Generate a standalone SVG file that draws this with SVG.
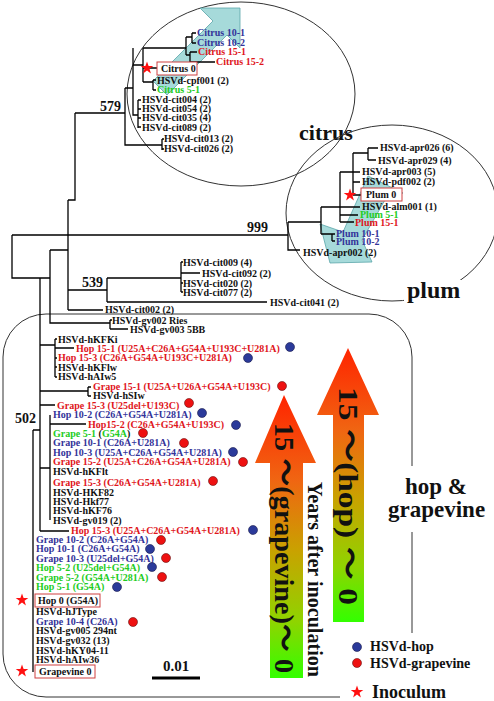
<svg xmlns="http://www.w3.org/2000/svg" width="494" height="701" viewBox="0 0 494 701">
<defs>
<style>
.t{font-family:'Liberation Serif','Times New Roman',serif;font-weight:bold;font-size:10px;fill:#111}
.b{fill:#333399}.r{fill:#e0151b}.g{fill:#22cc22}
.big{font-family:'Liberation Serif','Times New Roman',serif;font-weight:bold;fill:#111}
.ar{font-family:'Liberation Serif','Noto Sans CJK JP',serif;font-weight:bold;fill:#111}
.ln{stroke:#000;stroke-width:1.3;fill:none}
.cir{stroke:#333;stroke-width:1;fill:none}
.box{stroke:#d04040;stroke-width:1;fill:#fff}
.cy{fill:#a6dada;stroke:#5aa6aa;stroke-width:0.8}
.db{fill:#2b3a9a;stroke:#1a1a4a;stroke-width:0.6}
.dr{fill:#ee1111;stroke:#661111;stroke-width:0.6}
</style>
<path id="star" d="M0,-6.5 L1.6,-2 L6.3,-2 L2.5,0.8 L3.9,5.4 L0,2.6 L-3.9,5.4 L-2.5,0.8 L-6.3,-2 L-1.6,-2 Z" fill="#ff1010"/>
<linearGradient id="ga" x1="0" y1="395" x2="0" y2="678" gradientUnits="userSpaceOnUse">
<stop offset="0" stop-color="#ff2400"/><stop offset="0.3" stop-color="#f06512"/><stop offset="0.55" stop-color="#c9a200"/><stop offset="0.8" stop-color="#8fd400"/><stop offset="1" stop-color="#33ff00"/>
</linearGradient>
<linearGradient id="gb" x1="0" y1="348" x2="0" y2="622" gradientUnits="userSpaceOnUse">
<stop offset="0" stop-color="#ff2400"/><stop offset="0.3" stop-color="#f06512"/><stop offset="0.55" stop-color="#c9a200"/><stop offset="0.8" stop-color="#8fd400"/><stop offset="1" stop-color="#33ff00"/>
</linearGradient>
</defs>
<rect width="494" height="701" fill="#fff"/>

<g id="citrus-region">
<ellipse class="cir" cx="241" cy="94" rx="114" ry="92"/>
<polygon class="cy" points="240,8 200,8 213,21 153,81 167,95 227,35 240,48"/>
<text class="big" x="299" y="140" font-size="22">citrus</text>
</g>
<g id="plum-region">
<ellipse class="cir" cx="392" cy="213" rx="106" ry="88"/>
<polygon class="cy" points="368,176 403,193 385,200 362,240 372,262 330,263 320,224 343,232"/>
<rect x="404" y="280" width="60" height="24" fill="#fff"/>
<text class="big" x="407" y="298" font-size="24">plum</text>
</g>
<g id="hop-region">
<path class="cir" d="M340,697 H46 A43,43 0 0 1 3,654 V357 A43,43 0 0 1 46,314 H369 A43,43 0 0 1 412,357 V466 M412,532 V633"/>
<text class="big" x="405" y="494" font-size="23">hop &amp;</text>
<text class="big" x="388" y="517" font-size="23">grapevine</text>
</g>

<g id="connectors">
<path class="ln" d="M12,235 H288 M12,235 V278 H50 M40,278 V531 M33,430 H40 M33,430 V672"/>
<path class="ln" d="M75,113 H125 M75,113 V200 H68 M68,200 V310 M68,290 H107 M68,310 H103 M50,250 H68 M50,250 V323 H110"/>
<path class="ln" d="M125,88 V145 H162 M162,139 V150 M162,139 H164 M162,149 H164 M125,88 H133 M133,48 V115 H138 M138,100 V128 M138,100 H141 M138,109 H141 M138,118 H141 M138,127 H141 M133,65 H143 M143,48 V82 M143,48 H186 M186,37 V55 M186,37 H192 M192,33 V43 M192,33 H196 M192,43 H196 M186,55 H190 M190,52 V62 M190,52 H197 M190,62 H215 M143,68 H157 M143,82 H153 M153,80 V90 M153,80 H156 M153,90 H156"/>
<path class="ln" d="M288,222 V250 H300 M288,222 H321 M321,207 V234 M321,234 H332 M332,234 V241 M332,234 H335 M332,241 H335 M321,207 H340 M340,172 V222 M340,172 H353 M353,153 V195 M353,153 H368 M368,148 V160 M368,148 H378 M368,160 H376 M353,172 H360 M353,182 H360 M353,195 H361 M340,207 H360 M340,215 H358 M340,222 H354"/>
<path class="ln" d="M107,278 V302 M107,278 H181 M181,262 V292 M181,262 H183 M181,273 H200 M181,283 H183 M181,292 H183 M107,302 H267 M110,320 V329 M110,320 H112 M110,329 H128"/>
<path class="ln" d="M40,345 H55 M55,339 V377 M55,339 H57 M55,348 H74 M55,358 H57 M55,367 H57 M55,377 H57 M40,391 H88 M88,387 V396 M88,387 H91 M88,396 H91 M40,405 H55 M40,468 H50 M50,415 V520 M50,424 H86 M40,531 H69"/>
</g>

<g id="labels-citrus" class="t">
<text x="197" y="36" class="b">Citrus 10-1</text>
<text x="197" y="46" class="b">Citrus 10-2</text>
<text x="198" y="55" class="r">Citrus 15-1</text>
<text x="216" y="65" class="r">Citrus 15-2</text>
<rect class="box" x="157" y="62" width="40" height="13"/>
<text x="161" y="72">Citrus 0</text>
<text x="157" y="84">HSVd-cpf001 (2)</text>
<text x="157" y="93" class="g">Citrus 5-1</text>
<text x="142" y="103">HSVd-cit004 (2)</text>
<text x="142" y="112">HSVd-cit054 (2)</text>
<text x="142" y="121">HSVd-cit035 (4)</text>
<text x="142" y="131">HSVd-cit089 (2)</text>
<text x="164" y="142">HSVd-cit013 (2)</text>
<text x="164" y="152">HSVd-cit026 (2)</text>
</g>
<g id="labels-plum" class="t">
<text x="380" y="151">HSVd-apr026 (6)</text>
<text x="378" y="164">HSVd-apr029 (4)</text>
<text x="362" y="175">HSVd-apr003 (5)</text>
<text x="362" y="185">HSVd-pdf002 (2)</text>
<rect class="box" x="361" y="188" width="41" height="13"/>
<text x="366" y="198">Plum 0</text>
<text x="362" y="210">HSVd-alm001 (1)</text>
<text x="360" y="218" class="g">Plum 5-1</text>
<text x="355" y="226" class="r">Plum 15-1</text>
<text x="336" y="237" class="b">Plum 10-1</text>
<text x="336" y="245" class="b">Plum 10-2</text>
<text x="303" y="256">HSVd-apr002 (2)</text>
</g>
<g id="labels-middle" class="t">
<text x="183" y="266">HSVd-cit009 (4)</text>
<text x="202" y="277">HSVd-cit092 (2)</text>
<text x="183" y="287">HSVd-cit020 (2)</text>
<text x="183" y="296">HSVd-cit077 (2)</text>
<text x="270" y="306">HSVd-cit041 (2)</text>
<text x="105" y="313">HSVd-cit002 (2)</text>
<text x="112" y="324">HSVd-gv002 Ries</text>
<text x="130" y="333">HSVd-gv003 5BB</text>
</g>
<g id="bootstrap" class="big" font-size="14">
<text x="100" y="111">579</text>
<text x="247" y="232">999</text>
<text x="82" y="287">539</text>
<text x="15" y="423">502</text>
</g>
<g id="labels-hop" class="t">
<text x="58" y="343">HSVd-hKFKi</text>
<text x="76" y="352" class="r">Hop 15-1 (U25A+C26A+G54A+U193C+U281A)</text>
<text x="58" y="361" class="r">Hop 15-3 (C26A+G54A+U193C+U281A)</text>
<text x="58" y="371">HSVd-hKFlw</text>
<text x="58" y="380">HSVd-hAIw5</text>
<text x="93" y="390" class="r">Grape 15-1 (U25A+U26A+G54A+U193C)</text>
<text x="93" y="399">HSVd-hSIw</text>
<text x="57" y="409" class="r">Grape 15-3 (U25del+U193C)</text>
<text x="53" y="418" class="b">Hop 10-2 (C26A+G54A+U281A)</text>
<text x="88" y="428" class="r">Hop15-2 (C26A+G54A+U193C)</text>
<text x="53" y="437"><tspan class="g">Grape 5-1 </tspan>(<tspan class="g">G54A</tspan>)</text>
<text x="53" y="446" class="b">Grape 10-1 (C26A+U281A)</text>
<text x="53" y="456" class="b">Hop 10-3 (U25A+C26A+G54A+U281A)</text>
<text x="53" y="465" class="r">Grape 15-2 (U25A+C26A+G54A+U281A)</text>
<text x="53" y="475">HSVd-hKFlt</text>
<text x="53" y="486" class="r">Grape 15-3 (C26A+G54A+U281A)</text>
<text x="53" y="496">HSVd-HKF82</text>
<text x="53" y="505">HSVd-Hkf77</text>
<text x="53" y="514">HSVd-hKF76</text>
<text x="53" y="524">HSVd-gv019 (2)</text>
<text x="71" y="534" class="r">Hop 15-3 (U25A+C26A+G54A+U281A)</text>
<text x="36" y="543" class="b">Grape 10-2 (C26A+G54A)</text>
<text x="36" y="552" class="b">Hop 10-1 (C26A+G54A)</text>
<text x="36" y="562" class="b">Grape 10-3 (U25del+G54A)</text>
<text x="36" y="571" class="g">Hop 5-2 (U25del+G54A)</text>
<text x="36" y="581" class="g">Grape 5-2 (G54A+U281A)</text>
<text x="36" y="590" class="g">Hop 5-1 (G54A)</text>
<rect class="box" x="35" y="594" width="65" height="13"/>
<text x="38" y="604">Hop 0 (G54A)</text>
<text x="36" y="615">HSVd-hJType</text>
<text x="36" y="625" class="b">Grape 10-4 (C26A)</text>
<text x="36" y="634">HSVd-gv005 294nt</text>
<text x="36" y="644">HSVd-gv032 (13)</text>
<text x="36" y="654">HSVd-hKY04-11</text>
<text x="36" y="663">HSVd-hAIw36</text>
<rect class="box" x="35" y="665" width="60" height="13"/>
<text x="39" y="675">Grapevine 0</text>
</g>

<g id="stars">
<use href="#star" x="147" y="68"/>
<use href="#star" x="350" y="195"/>
<use href="#star" x="22" y="600"/>
<use href="#star" x="22" y="671"/>
</g>

<g id="dots">
<circle class="db" cx="290" cy="347" r="4.5"/>
<circle class="db" cx="248" cy="358" r="4.5"/>
<circle class="dr" cx="282" cy="386" r="4.5"/>
<circle class="dr" cx="189" cy="403" r="4.5"/>
<circle class="db" cx="202" cy="413" r="4.5"/>
<circle class="db" cx="236" cy="425" r="4.5"/>
<circle class="dr" cx="143" cy="433" r="4.5"/>
<circle class="dr" cx="184" cy="443" r="4.5"/>
<circle class="db" cx="233" cy="452" r="4.5"/>
<circle class="dr" cx="243" cy="462" r="4.5"/>
<circle class="dr" cx="213" cy="481" r="4.5"/>
<circle class="db" cx="253" cy="530" r="4.5"/>
<circle class="dr" cx="161" cy="540" r="4.5"/>
<circle class="db" cx="150" cy="549" r="4.5"/>
<circle class="dr" cx="166" cy="558" r="4.5"/>
<circle class="db" cx="152" cy="567" r="4.5"/>
<circle class="dr" cx="162" cy="577" r="4.5"/>
<circle class="db" cx="117" cy="587" r="4.5"/>
<circle class="dr" cx="133" cy="622" r="4.5"/>
</g>

<g id="arrow-grapevine">
<polygon points="284,395 316,463 303,463 303,678 270,678 270,463 255,463" fill="url(#ga)"/>
<text class="ar" font-size="28" transform="translate(275,423) rotate(90)" textLength="250" lengthAdjust="spacingAndGlyphs">15 ～(grapevine)～ 0</text>
</g>
<g id="arrow-hop">
<polygon points="348,348 379,415 364,415 364,622 333,622 333,415 317,415" fill="url(#gb)"/>
<text class="ar" font-size="28" transform="translate(339,387) rotate(90)" textLength="218" lengthAdjust="spacingAndGlyphs">15 ～(hop) ～ 0</text>
</g>
<text class="big" font-size="20" transform="translate(308,482) rotate(90)" textLength="195" lengthAdjust="spacingAndGlyphs">Years after inoculation</text>

<g id="scale">
<text class="big" x="163" y="671" font-size="15">0.01</text>
<line x1="152" y1="678" x2="200" y2="678" stroke="#000" stroke-width="3"/>
</g>
<g id="legend">
<circle class="db" cx="357" cy="647" r="4.5"/>
<text class="big" x="370" y="651" font-size="14">HSVd-hop</text>
<circle class="dr" cx="357" cy="663" r="4.5"/>
<text class="big" x="370" y="668" font-size="14">HSVd-grapevine</text>
<use href="#star" x="357" y="692"/>
<text class="big" x="372" y="698" font-size="18">Inoculum</text>
</g>
</svg>
